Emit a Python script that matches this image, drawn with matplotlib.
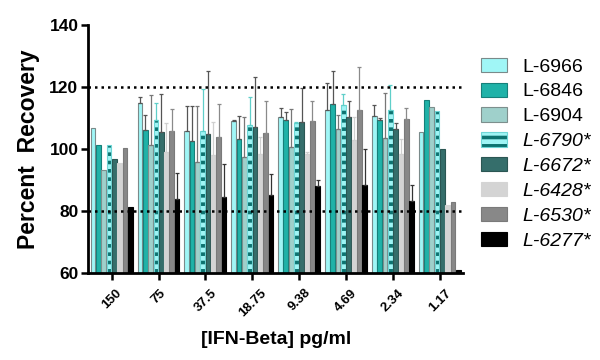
import matplotlib.pyplot as plt
import numpy as np

plt.rcParams['font.family'] = ['Liberation Sans', 'DejaVu Sans']
plt.rcParams['hatch.linewidth'] = 2.6

conc = ['150', '75', '37.5', '18.75', '9.38', '4.69', '2.34', '1.17']
names = ['L-6966', 'L-6846', 'L-6904', 'L-6790*', 'L-6672*', 'L-6428*', 'L-6530*', 'L-6277*']

L6966 = [106.8, 114.7, 105.8, 109.0, 110.4, 112.4, 110.6, 105.4]
L6846 = [101.1, 106.1, 102.4, 103.3, 109.4, 114.6, 109.3, 115.7]
L6904 = [93.1, 101.2, 95.7, 97.3, 100.7, 106.5, 103.5, 113.5]
L6790 = [101.3, 109.3, 105.8, 107.7, 108.3, 114.2, 112.5, 112.2]
L6672 = [96.8, 105.3, 104.8, 107.2, 108.8, 110.4, 106.5, 100.0]
L6428 = [95.5, 98.9, 98.0, 98.2, 98.2, 103.0, 98.5, 82.0]
L6530 = [100.2, 105.6, 103.7, 105.2, 109.0, 112.6, 109.7, 82.7]
L6277 = [81.2, 83.8, 84.5, 85.0, 88.1, 88.4, 83.3, 60.8]

E6966 = [0, 2.0, 8.0, 0.4, 2.9, 8.8, 3.5, 0]
E6846 = [0, 4.9, 11.3, 7.2, 2.6, 10.5, 0.7, 0]
E6904 = [0, 16.2, 18.2, 13.0, 12.1, 4.4, 14.6, 0]
E6790 = [0, 5.4, 13.6, 9.0, 0.5, 3.5, 8.1, 0]
E6672 = [0, 12.5, 20.2, 16.1, 10.7, 5.1, 1.8, 0]
E6428 = [0, 9.4, 10.6, 5.6, 0.9, 7.4, 4.7, 0]
E6530 = [0, 7.1, 10.9, 10.2, 6.3, 13.7, 3.4, 0]
E6277 = [0, 8.4, 10.5, 6.8, 1.9, 11.5, 5.1, 0]

vals = [L6966, L6846, L6904, L6790, L6672, L6428, L6530, L6277]
errs = [E6966, E6846, E6904, E6790, E6672, E6428, E6530, E6277]

faces = ['#a0f6f6', '#1fb2a8', '#9fd0cb', '#9ff5f5', '#356e6b', '#d4d4d4', '#888888', '#000000']
edges = ['#7a8a8a', '#16807a', '#7d8f8d', '#6fd6d6', '#2b5653', '#d4d4d4', '#7a7a7a', '#000000']
ecols = ['#555555', '#555555', '#777777', '#5fcfc9', '#555555', '#cfcfcf', '#8a8a8a', '#333333']
hatches = [None, None, None, '--', None, None, None, None]
italic = [False, False, False, True, True, True, True, True]

fig = plt.figure(figsize=(6, 3.6), dpi=100)
ax = fig.add_axes([0.147, 0.242, 0.625, 0.689])

x = np.arange(len(conc))
step = 0.1135
for j in range(8):
    xs = x + (j - 3.5) * step
    b = ax.bar(xs, vals[j], width=0.1, color=faces[j], edgecolor=edges[j],
               linewidth=0.8, hatch=hatches[j], label=names[j], zorder=2)
    if hatches[j]:
        for p in b:
            p._hatch_color = (0.05, 0.45, 0.44, 1.0)
    e = np.array(errs[j])
    m = e > 0
    ax.errorbar(xs[m], np.array(vals[j])[m], yerr=[np.zeros(m.sum()), e[m]], fmt='none',
                ecolor=ecols[j], elinewidth=0.9, capsize=1.5, capthick=0.9, zorder=3)

ax.axhline(120, color='black', linestyle=(0, (1, 1.6)), linewidth=1.8, zorder=4)
ax.axhline(80, color='black', linestyle=(0, (1, 1.6)), linewidth=1.8, zorder=4)

ax.set_ylim(60, 140)
ax.set_xlim(-0.5, 7.5)
ax.set_yticks([60, 80, 100, 120, 140])
ax.set_xticks(x)
ax.set_xticklabels(conc, rotation=45, fontweight='bold', fontsize=9.5)
for t in ax.get_yticklabels():
    t.set_fontweight('bold')
    t.set_fontsize(12.5)
ax.tick_params(axis='y', width=1.8, length=5, pad=2)
ax.tick_params(axis='x', width=1.8, length=5, pad=5)
ax.spines['top'].set_visible(False)
ax.spines['right'].set_visible(False)
ax.spines['left'].set_linewidth(2)
ax.spines['bottom'].set_linewidth(2)
ax.set_ylabel('Percent  Recovery', fontsize=16.5, fontweight='bold', labelpad=7)
ax.set_xlabel('[IFN-Beta] pg/ml', fontsize=14, fontweight='bold', labelpad=9)

leg = fig.legend(loc='upper left', bbox_to_anchor=(0.802, 0.84), frameon=False,
                 fontsize=14, handlelength=1.35, handleheight=0.75,
                 labelspacing=0.36, handletextpad=0.75, borderpad=0, borderaxespad=0)
for t, it in zip(leg.get_texts(), italic):
    if it:
        t.set_fontstyle('italic')

fig.savefig('out.png', dpi=100)
